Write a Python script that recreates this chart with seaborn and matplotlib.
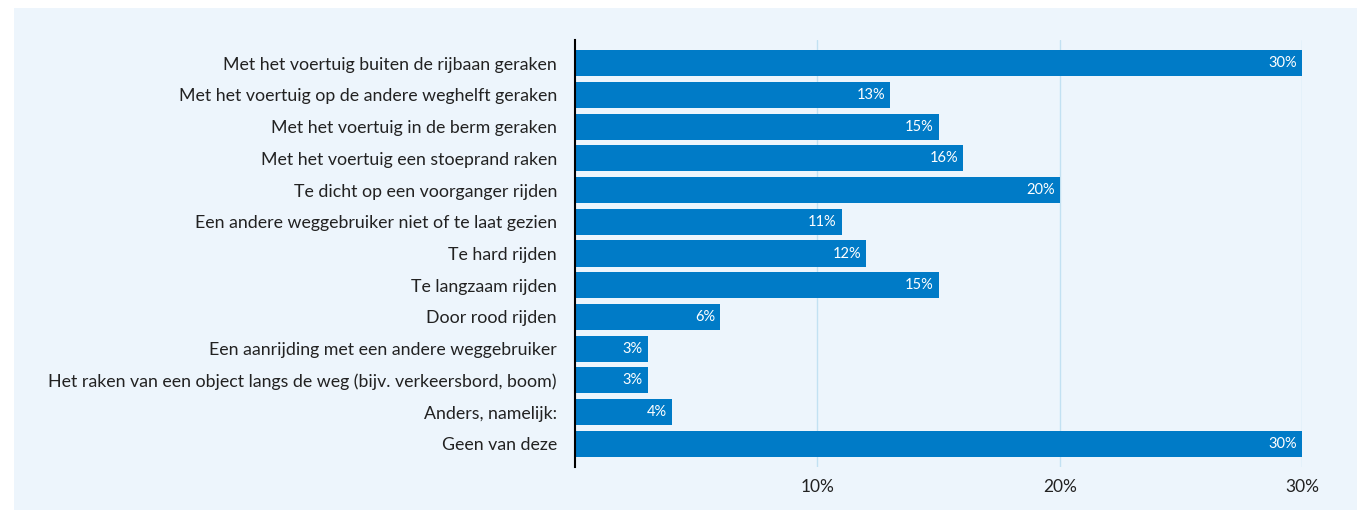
import matplotlib
matplotlib.use("Agg")
import matplotlib.pyplot as plt
import seaborn as sns
import pandas as pd
from matplotlib.patches import Rectangle

categories = [
    "Met het voertuig buiten de rijbaan geraken",
    "Met het voertuig op de andere weghelft geraken",
    "Met het voertuig in de berm geraken",
    "Met het voertuig een stoeprand raken",
    "Te dicht op een voorganger rijden",
    "Een andere weggebruiker niet of te laat gezien",
    "Te hard rijden",
    "Te langzaam rijden",
    "Door rood rijden",
    "Een aanrijding met een andere weggebruiker",
    "Het raken van een object langs de weg (bijv. verkeersbord, boom)",
    "Anders, namelijk:",
    "Geen van deze",
]
values = [30, 13, 15, 16, 20, 11, 12, 15, 6, 3, 3, 4, 30]
x_ticks = [10, 20, 30]
x_tick_labels = ["10%", "20%", "30%"]

df = pd.DataFrame({"category": categories, "value": values})

sns.set_theme(style="white")
plt.rcParams["font.family"] = ["Lato", "DejaVu Sans"]

bar_color = "#007bc7"
panel_color = "#edf5fc"
grid_color = "#c2e1f2"

fig = plt.figure(figsize=(13.64, 5.12), dpi=100)
fig.patch.set_facecolor("white")
panel = Rectangle((14 / 1364, 2 / 512), 1343 / 1364, 502 / 512,
                  transform=fig.transFigure, facecolor=panel_color,
                  edgecolor="none", zorder=-10)
fig.add_artist(panel)

ax = fig.add_axes([575 / 1364, 45 / 512, 727 / 1364, 427 / 512])
ax.set_facecolor("none")
ax.set_zorder(1)

sns.barplot(data=df, x="value", y="category", color=bar_color, saturation=1,
            width=0.82, linewidth=0, ax=ax, zorder=3)

for i, v in enumerate(values):
    ax.text(v - 0.2, i, f"{v}%", color="white", fontsize=10.5,
            ha="right", va="center", zorder=4)

ax.set_xlim(0, 30)
ax.set_ylim(12.73, -0.73)
ax.set_xticks(x_ticks)
ax.set_xticklabels(x_tick_labels, fontsize=12.5, color="#222222")
for t in x_ticks:
    ax.axvline(t, color=grid_color, lw=1, zorder=1)

ax.tick_params(axis="both", length=0)
ax.tick_params(axis="x", pad=9)
ax.tick_params(axis="y", pad=13, labelsize=12.8, labelcolor="#222222")
ax.set_xlabel("")
ax.set_ylabel("")
for s in ["top", "right", "bottom"]:
    ax.spines[s].set_visible(False)
ax.spines["left"].set_color("black")
ax.spines["left"].set_linewidth(1.5)
ax.spines["left"].set_zorder(5)

fig.savefig("out.png", dpi=100, facecolor="white")
